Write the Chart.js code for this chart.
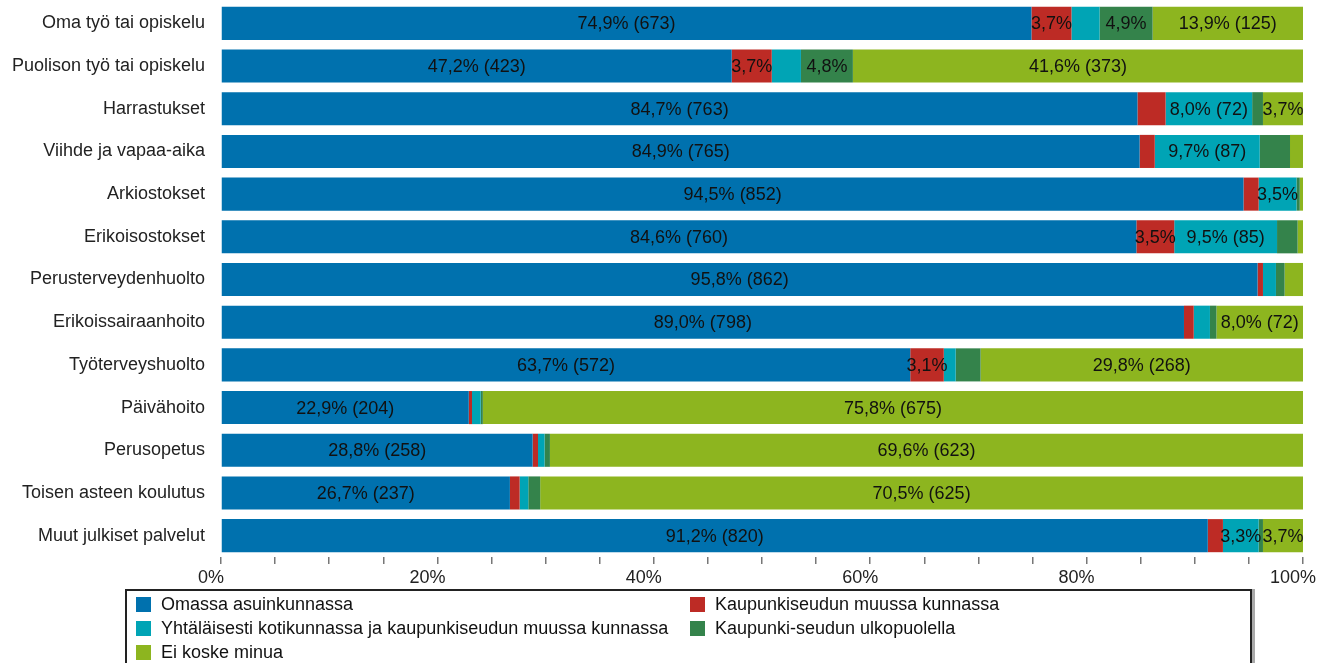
<!DOCTYPE html>
<html>
<head>
<meta charset="utf-8">
<script src="https://cdn.jsdelivr.net/npm/chart.js@4/dist/chart.umd.min.js"></script>
<style>
  body { margin: 0; background: #fff; }
  #wrap { position: relative; width: 1320px; height: 663px; overflow: hidden; }
  #chart { position: absolute; left: 0; top: 0; }
  #legend {
    position: absolute; left: 125px; top: 589px; width: 1123px; height: 80px;
    border: 2px solid #222; box-shadow: 3px 0 0 #aaa; background: #fff;
    font: 18px "Liberation Sans", Arial, sans-serif; color: #111;
  }
  .item { position: absolute; height: 20px; line-height: 20px; white-space: nowrap; }
  .item span.box { position: absolute; left: 0; top: 3px; width: 15px; height: 15px; }
  .item span.txt { position: absolute; left: 25px; top: 0; }
</style>
</head>
<body>
<div id="wrap">
  <canvas id="chart" width="1320" height="663"></canvas>
  <div id="legend"></div>
</div>
<script>
// categories (top to bottom)
const categories = [
  "Oma työ tai opiskelu",
  "Puolison työ tai opiskelu",
  "Harrastukset",
  "Viihde ja vapaa-aika",
  "Arkiostokset",
  "Erikoisostokset",
  "Perusterveydenhuolto",
  "Erikoissairaanhoito",
  "Työterveyshuolto",
  "Päivähoito",
  "Perusopetus",
  "Toisen asteen koulutus",
  "Muut julkiset palvelut"
];

const seriesNames = [
  "Omassa asuinkunnassa",
  "Kaupunkiseudun muussa kunnassa",
  "Yhtäläisesti kotikunnassa ja kaupunkiseudun muussa kunnassa",
  "Kaupunki-seudun ulkopuolella",
  "Ei koske minua"
];
const seriesColors = ["#0071ae", "#bd2b25", "#00a4b5", "#34834b", "#8db51f"];

// shares in %
const omassa       = [74.9, 47.2, 84.7, 84.9, 94.5, 84.6, 95.8, 89.0, 63.7, 22.9, 28.8, 26.7, 91.2];
const muussa       = [3.7, 3.7, 2.6, 1.4, 1.4, 3.5, 0.5, 0.9, 3.1, 0.3, 0.5, 0.9, 1.4];
const yhtalaisesti = [2.6, 2.7, 8.0, 9.7, 3.5, 9.5, 1.2, 1.5, 1.1, 0.8, 0.6, 0.8, 3.3];
const ulkopuolella = [4.9, 4.8, 1.0, 2.8, 0.3, 1.9, 0.8, 0.6, 2.3, 0.2, 0.5, 1.1, 0.4];
const eiKoske      = [13.9, 41.6, 3.7, 1.2, 0.3, 0.5, 1.7, 8.0, 29.8, 75.8, 69.6, 70.5, 3.7];

// respondents per row (for the counts in brackets)
const respondents = [898, 896, 901, 901, 902, 898, 900, 897, 898, 890, 895, 887, 899];

const xTicks = [0, 20, 40, 60, 80, 100];

const seriesValues = [omassa, muussa, yhtalaisesti, ulkopuolella, eiKoske];

const FONT = '"Liberation Sans", Arial, sans-serif';

function fmt(v) {
  return v.toFixed(1).replace(".", ",") + "%";
}

// draw the value labels in the middle of each segment
const segmentLabels = {
  id: "segmentLabels",
  afterDatasetsDraw(chart) {
    const ctx = chart.ctx;
    ctx.save();
    ctx.font = "18px " + FONT;
    ctx.fillStyle = "#111";
    ctx.textAlign = "center";
    ctx.textBaseline = "middle";
    chart.data.datasets.forEach((ds, di) => {
      const meta = chart.getDatasetMeta(di);
      meta.data.forEach((bar, i) => {
        const v = ds.data[i];
        if (v < 3) return;
        let txt = fmt(v);
        if (v >= 5) txt += " (" + Math.round(v * respondents[i] / 100) + ")";
        const p = bar.getProps(["x", "y", "base"], true);
        ctx.fillText(txt, (p.x + p.base) / 2, p.y + 1);
      });
    });
    ctx.restore();
  }
};

const chart = new Chart(document.getElementById("chart"), {
  type: "bar",
  data: {
    labels: categories,
    datasets: seriesValues.map((vals, k) => ({
      label: seriesNames[k],
      data: vals,
      backgroundColor: seriesColors[k],
      borderWidth: 0,
      categoryPercentage: 1,
      barPercentage: 0.775
    }))
  },
  options: {
    indexAxis: "y",
    responsive: false,
    animation: false,
    layout: { padding: { top: 2, right: 17, bottom: 76, left: 0 } },
    plugins: {
      legend: { display: false },
      tooltip: { enabled: false }
    },
    scales: {
      x: {
        stacked: true,
        min: 0,
        max: 100,
        border: { display: false },
        grid: { drawOnChartArea: false, drawTicks: true, tickLength: 7, color: "#777", lineWidth: 1.5 },
        ticks: {
          stepSize: 5,
          autoSkip: false,
          maxRotation: 0,
          padding: 3,
          labelOffset: -10,
          color: "#222",
          font: { family: FONT, size: 18 },
          callback: (v) => (xTicks.includes(v) ? v + "%" : "")
        },
        afterFit(s) {
          s.height = 30;
          s.paddingLeft = 0;
          s.paddingRight = 0;
        }
      },
      y: {
        stacked: true,
        border: { display: false },
        grid: { display: false },
        ticks: {
          padding: 8,
          color: "#222",
          font: { family: FONT, size: 18 }
        },
        afterFit(s) {
          s.width = 221;
          s.paddingTop = 0;
          s.paddingBottom = 0;
        }
      }
    }
  },
  plugins: [segmentLabels]
});

// legend in two columns
const legendEl = document.getElementById("legend");
seriesNames.forEach((name, k) => {
  const col = k % 2, row = Math.floor(k / 2);
  const item = document.createElement("div");
  item.className = "item";
  item.style.left = (col === 0 ? 9 : 563) + "px";
  item.style.top = (3 + row * 24) + "px";
  item.innerHTML = '<span class="box" style="background:' + seriesColors[k] + '"></span><span class="txt"></span>';
  item.querySelector(".txt").textContent = name;
  legendEl.appendChild(item);
});
</script>
</body>
</html>
